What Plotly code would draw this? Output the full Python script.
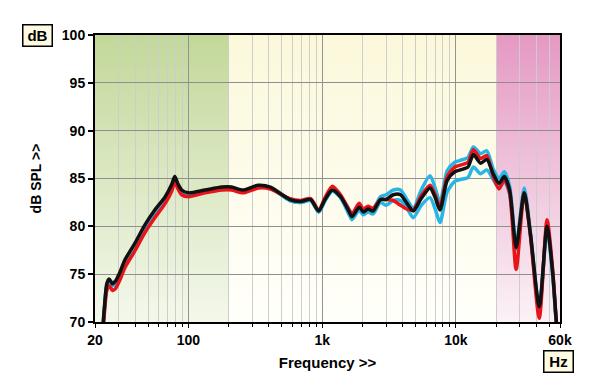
import base64
import math
import plotly.graph_objects as go

# ---------------- data ----------------
freq = [22.5, 23.5, 24.5, 25.5, 27.0, 28.5, 30.5, 33.5, 40, 47, 56, 67, 75, 79, 83, 89,
        100, 133, 178, 210, 256, 333, 410, 573, 687, 820, 940, 1050, 1190, 1370, 1580,
        1670, 1890, 2030, 2200, 2400, 2730, 3000, 3400, 3850, 4300, 4800, 5500, 6400,
        7000, 7600, 8600, 9800, 10800, 12300, 13500, 15300, 17000, 19000, 21000, 23000,
        25200, 28200, 32400, 36000, 42000, 48000, 53000, 56000, 58000]

black = [68.0, 71.5, 74.0, 74.5, 74.0, 74.3, 75.1, 76.5, 78.3, 80.1, 81.7, 83.1, 84.4, 85.2, 84.5, 83.8,
         83.5, 83.8, 84.1, 84.1, 83.8, 84.3, 84.1, 82.8, 82.6, 82.8, 81.6, 82.8, 83.8, 83.1, 81.6,
         81.0, 82.0, 81.5, 81.8, 81.6, 82.8, 82.8, 83.3, 83.3, 82.4, 81.6, 82.9, 84.0,
         83.0, 81.7, 84.8, 85.7, 85.9, 86.2, 87.5, 86.6, 87.0, 85.5, 84.5, 85.2,
         83.8, 77.8, 83.5, 79.3, 71.6, 80.0, 75.0, 70.5, 68.0]

red = [67.5, 70.9, 73.3, 73.8, 73.3, 73.5, 74.3, 75.7, 77.5, 79.3, 80.9, 82.4, 83.7, 84.6, 84.0, 83.3,
       83.1, 83.5, 83.8, 83.8, 83.5, 84.0, 83.9, 82.9, 82.7, 82.9, 81.7, 83.0, 84.2, 83.3, 81.8,
       81.3, 82.4, 81.8, 82.1, 81.9, 82.8, 82.8, 82.7, 82.2, 81.8, 81.7, 83.2, 84.3,
       83.3, 82.0, 85.2, 86.2, 86.4, 86.7, 88.0, 87.1, 87.4, 85.2, 83.9, 84.9,
       83.5, 75.5, 83.5, 79.1, 70.4, 80.7, 75.3, 70.5, 68.0]

cyan_hi = [67.8, 71.3, 73.8, 74.3, 73.8, 74.1, 74.9, 76.3, 78.1, 79.9, 81.5, 82.9, 84.2, 85.0, 84.3, 83.6,
           83.3, 83.6, 83.9, 83.9, 83.6, 84.1, 84.0, 82.7, 82.5, 82.7, 81.5, 82.7, 83.7, 83.1, 81.8,
           81.2, 82.2, 81.7, 82.0, 81.8, 83.1, 83.3, 83.8, 83.8, 82.8, 81.9, 83.8, 85.3,
           84.0, 82.5, 85.8, 86.7, 86.9, 87.2, 88.3, 87.6, 87.9, 86.0, 85.0, 85.7,
           84.2, 78.0, 84.0, 79.4, 71.2, 80.0, 74.8, 70.3, 68.0]

cyan_lo = [67.8, 71.3, 73.8, 74.3, 73.8, 74.1, 74.9, 76.3, 78.1, 79.9, 81.5, 82.9, 84.2, 85.0, 84.3, 83.6,
           83.3, 83.6, 83.9, 83.9, 83.6, 84.1, 84.0, 82.7, 82.5, 82.7, 81.5, 82.7, 83.7, 83.0, 81.3,
           80.7, 81.7, 81.2, 81.5, 81.3, 82.5, 82.2, 82.7, 82.7, 81.9, 80.9, 82.2, 83.0,
           81.8, 80.4, 83.6, 84.7, 84.9, 85.1, 86.2, 85.5, 85.9, 84.9, 84.0, 84.7,
           83.4, 77.6, 83.5, 79.2, 71.4, 79.7, 74.8, 70.3, 68.0]

x_tick_vals = [20, 100, 1000, 10000, 60000]
x_tick_text = ["20", "100", "1k", "10k", "60k"]
x_minor_vals = [30, 40, 50, 60, 70, 80, 90,
                200, 300, 400, 500, 600, 700, 800, 900,
                2000, 3000, 4000, 5000, 6000, 7000, 8000, 9000,
                20000, 30000, 40000, 50000]
y_tick_vals = [70, 75, 80, 85, 90, 95, 100]

# background bands (frequency edges) and their gradient colours
band_edges = [20, 200, 20000, 60000]
band_top = ["#c2d899", "#fbf8da", "#e599c3"]
band_bottom = ["#f4f8ec", "#fffffa", "#fbf2f6"]

F_MIN, F_MAX = 20, 60000
Y_MIN, Y_MAX = 70, 100

# ---------------- background gradient image ----------------
def frac(f):
    return (math.log10(f) - math.log10(F_MIN)) / (math.log10(F_MAX) - math.log10(F_MIN))

defs = []
rects = []
for i in range(len(band_top)):
    x0 = frac(band_edges[i]) * 1000
    x1 = frac(band_edges[i + 1]) * 1000
    defs.append(
        f'<linearGradient id="g{i}" x1="0" y1="0" x2="0" y2="1">'
        f'<stop offset="0" stop-color="{band_top[i]}"/>'
        f'<stop offset="1" stop-color="{band_bottom[i]}"/></linearGradient>')
    rects.append(f'<rect x="{x0:.2f}" y="0" width="{x1 - x0 + 0.5:.2f}" height="1000" fill="url(#g{i})"/>')
svg = ('<svg xmlns="http://www.w3.org/2000/svg" width="1000" height="1000" viewBox="0 0 1000 1000" '
       'preserveAspectRatio="none"><defs>' + "".join(defs) + "</defs>" + "".join(rects) + "</svg>")
svg_uri = "data:image/svg+xml;base64," + base64.b64encode(svg.encode()).decode()

# ---------------- figure ----------------
FONT = "Liberation Sans, Arial, sans-serif"
fig = go.Figure()

series = [
    (cyan_lo, "#27b4e6"),
    (cyan_hi, "#27b4e6"),
    (red, "#e8141a"),
    (black, "#111111"),
]
for vals, col in series:
    fig.add_trace(go.Scatter(
        x=freq, y=vals, mode="lines",
        line=dict(color=col, width=3.5, shape="spline", smoothing=0.7),
        hoverinfo="skip", showlegend=False))

fig.add_layout_image(dict(
    source=svg_uri, xref="paper", yref="paper", x=0, y=1, sizex=1, sizey=1,
    xanchor="left", yanchor="top", sizing="stretch", layer="below"))

# page body has an 8px margin, so the figure is sized/offset to compensate
fig.update_layout(
    width=592, height=381,
    margin=dict(l=87, r=40, t=27, b=67),
    paper_bgcolor="white", plot_bgcolor="white",
    showlegend=False,
    font=dict(family=FONT, color="black"),
    xaxis=dict(
        type="log",
        range=[math.log10(F_MIN), math.log10(F_MAX)],
        tickmode="array", tickvals=x_tick_vals, ticktext=x_tick_text,
        ticks="outside", ticklen=4, tickwidth=1, tickcolor="black",
        tickfont=dict(family=FONT, size=14, color="black", weight="bold"),
        showline=True, linewidth=2, linecolor="black", mirror=True,
        showgrid=True, gridcolor="#939393", gridwidth=1,
        minor=dict(tickmode="array", tickvals=x_minor_vals, ticks="outside", ticklen=3,
                   tickcolor="black", tickwidth=1,
                   showgrid=True, gridcolor="#cdcdcd", gridwidth=1),
        title=dict(text="Frequency >>", font=dict(family=FONT, size=15, color="black", weight="bold"),
                   standoff=11),
        zeroline=False,
    ),
    yaxis=dict(
        range=[Y_MIN, Y_MAX],
        tickmode="array", tickvals=y_tick_vals,
        ticks="outside", ticklen=5, tickwidth=1.5, tickcolor="black",
        tickfont=dict(family=FONT, size=14, color="black", weight="bold"),
        showline=True, linewidth=2, linecolor="black", mirror=True,
        showgrid=True, gridcolor="#8f8f8f", gridwidth=1,
        title=dict(text="dB SPL >>", font=dict(family=FONT, size=14, color="black", weight="bold"),
                   standoff=17),
        zeroline=False,
    ),
)

for txt, x, y in [("dB", -0.1232, 1.0), ("Hz", 0.9957, -0.1383)]:
    fig.add_annotation(
        text=txt, xref="paper", yref="paper", x=x, y=y,
        xanchor="center", yanchor="middle", showarrow=False,
        font=dict(family=FONT, size=15, color="black", weight="bold"),
        bgcolor="#fffbe3", bordercolor="black", borderwidth=1.5, borderpad=2,
        width=24, height=16)

fig.write_html("out.html")
